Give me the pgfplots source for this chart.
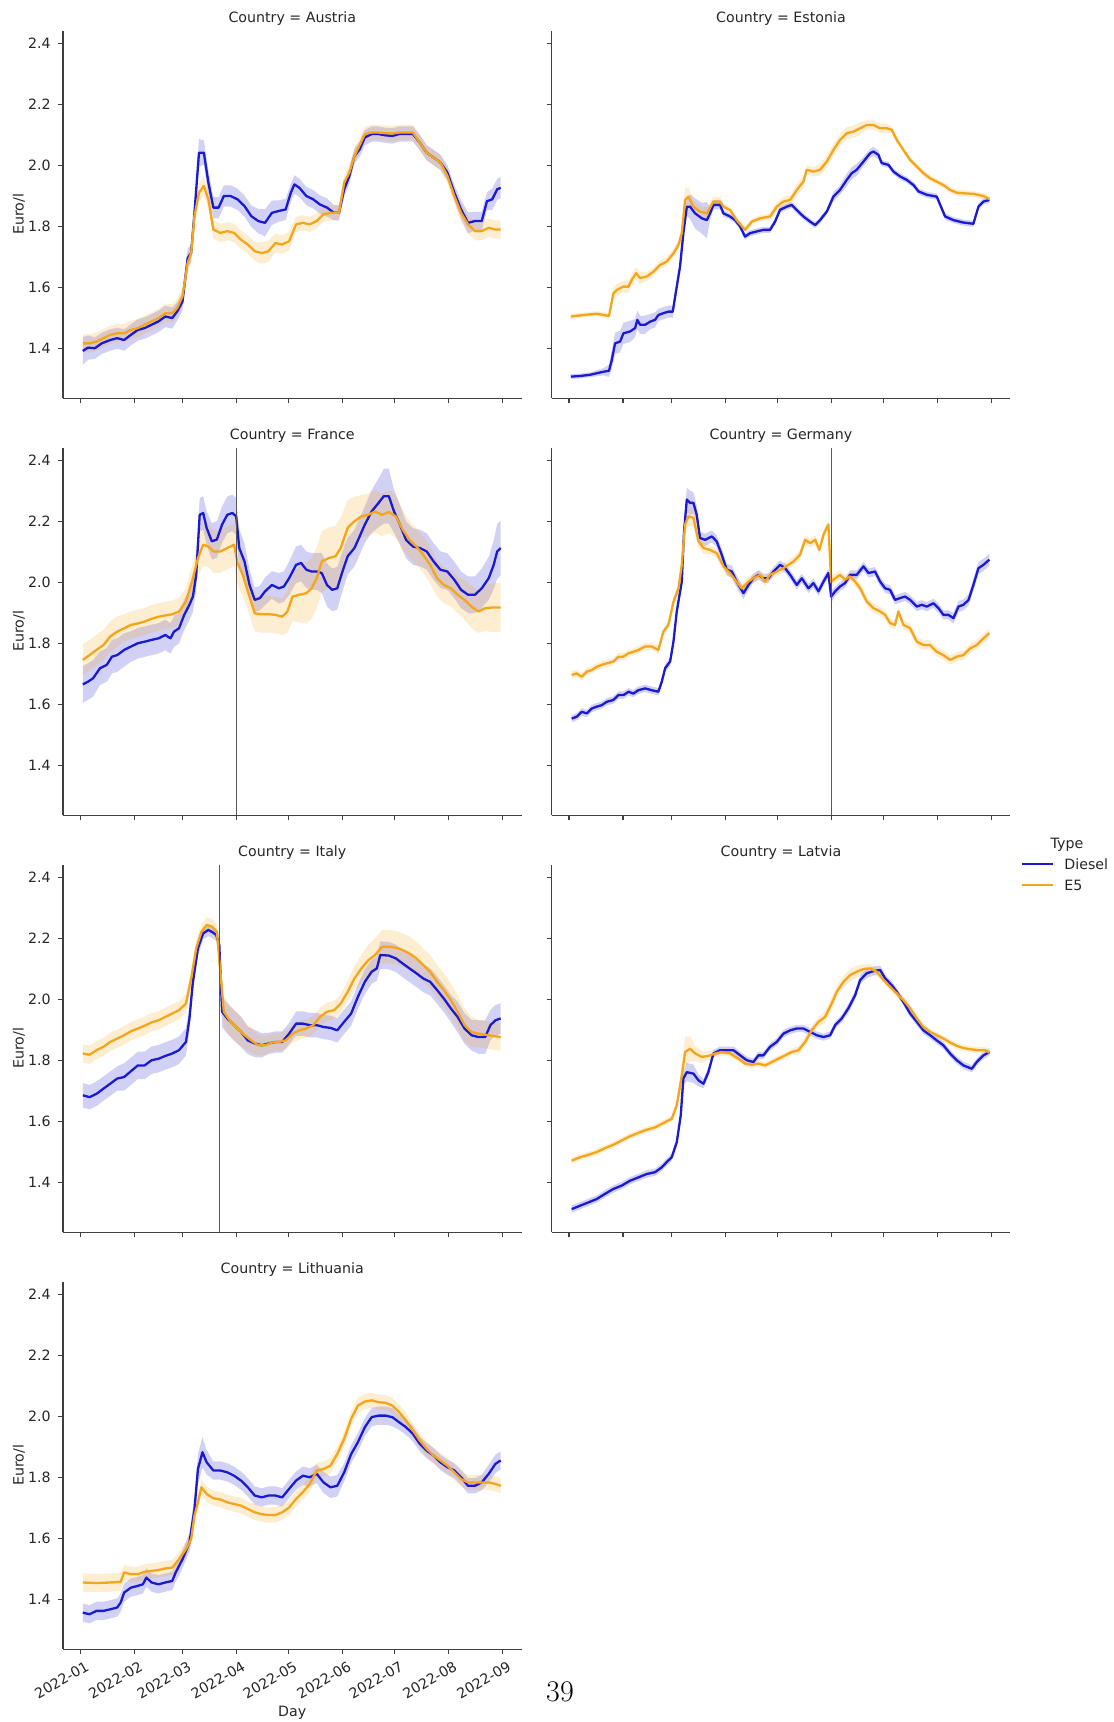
\documentclass[border=0pt]{standalone}
\usepackage{fontspec}
\newfontfamily\dv{DejaVu Sans}
\usepackage{pgfplots}
\usepackage{pgfplotstable}
\pgfplotsset{compat=1.18}
\usepgfplotslibrary{fillbetween}
\definecolor{dsl}{HTML}{1A1AD2}
\definecolor{efive}{HTML}{F5A51A}

% ---------------- data: d = day of 2022 (0 = 1 Jan), v = mean price, e = half width of band
\pgfplotstableread{
d v e
1.4 1.391 0.045
4.4 1.402 0.04
8.3 1.400 0.035
12.3 1.416 0.035
17.2 1.427 0.035
21.2 1.433 0.035
25.2 1.427 0.035
29.1 1.444 0.035
33.1 1.460 0.035
37.0 1.466 0.035
41.0 1.477 0.035
45.0 1.488 0.035
48.9 1.504 0.035
52.9 1.499 0.035
55.8 1.521 0.03
58.8 1.553 0.03
61.8 1.696 0.03
63.8 1.712 0.03
65.7 1.844 0.04
68.3 2.041 0.045
71.1 2.041 0.04
73.7 1.943 0.04
76.6 1.861 0.035
79.6 1.861 0.035
82.6 1.899 0.035
86.5 1.899 0.035
90.5 1.888 0.035
94.5 1.866 0.035
98.4 1.833 0.035
102.4 1.817 0.04
106.3 1.811 0.045
110.3 1.844 0.04
114.3 1.850 0.035
118.2 1.855 0.035
121.2 1.910 0.03
123.2 1.937 0.03
126.1 1.926 0.03
130.1 1.899 0.03
134.1 1.888 0.03
138.0 1.871 0.03
142.0 1.861 0.03
146.0 1.844 0.025
148.9 1.844 0.025
151.9 1.921 0.025
154.9 1.965 0.025
157.8 2.030 0.025
160.8 2.052 0.025
163.8 2.091 0.025
167.7 2.102 0.025
171.7 2.102 0.025
175.7 2.098 0.025
179.6 2.096 0.025
183.6 2.102 0.025
187.5 2.102 0.025
191.5 2.102 0.025
195.5 2.074 0.025
199.4 2.041 0.025
203.4 2.025 0.025
207.3 2.009 0.025
211.3 1.976 0.025
215.3 1.910 0.025
219.2 1.855 0.03
223.2 1.811 0.035
227.2 1.817 0.03
231.1 1.817 0.03
234.1 1.882 0.03
237.1 1.888 0.035
240.0 1.921 0.035
242.0 1.926 0.035
}\AtD
\pgfplotstableread{
d v e
1.4 1.416 0.03
5.3 1.416 0.03
9.3 1.422 0.03
13.3 1.433 0.03
17.2 1.444 0.03
21.2 1.449 0.03
25.2 1.449 0.03
29.1 1.460 0.03
33.1 1.466 0.03
37.0 1.477 0.03
41.0 1.488 0.03
45.0 1.499 0.03
48.9 1.515 0.03
52.9 1.515 0.03
55.8 1.532 0.03
58.8 1.570 0.03
61.8 1.680 0.03
63.8 1.712 0.03
65.7 1.833 0.03
68.3 1.910 0.03
71.1 1.932 0.03
73.7 1.888 0.03
76.6 1.789 0.03
80.6 1.778 0.03
84.6 1.784 0.03
88.5 1.778 0.03
92.5 1.756 0.03
96.4 1.740 0.03
100.4 1.718 0.03
104.4 1.712 0.035
108.3 1.718 0.035
112.3 1.745 0.03
116.2 1.740 0.03
120.2 1.751 0.03
124.2 1.806 0.025
128.1 1.811 0.025
132.1 1.806 0.025
136.1 1.817 0.025
140.0 1.839 0.025
144.0 1.844 0.025
148.9 1.844 0.025
151.9 1.943 0.025
154.9 1.976 0.025
157.8 2.030 0.025
163.8 2.102 0.025
167.7 2.107 0.025
171.7 2.107 0.025
175.7 2.105 0.025
179.6 2.104 0.025
183.6 2.107 0.025
187.5 2.107 0.025
191.5 2.107 0.025
195.5 2.074 0.025
199.4 2.041 0.025
203.4 2.025 0.025
207.3 2.009 0.025
211.3 1.965 0.025
215.3 1.899 0.025
219.2 1.844 0.03
223.2 1.806 0.03
227.2 1.784 0.03
231.1 1.784 0.03
235.1 1.795 0.03
239.0 1.789 0.03
242.0 1.789 0.03
}\AtE
\pgfplotstableread{
d v e
1.0 1.307 0.008
6.3 1.309 0.008
12.1 1.313 0.008
15.9 1.318 0.01
19.8 1.323 0.012
23.0 1.326 0.02
24.6 1.362 0.03
26.5 1.416 0.035
29.4 1.422 0.035
31.3 1.449 0.035
35.1 1.455 0.035
38.0 1.466 0.03
39.3 1.493 0.03
40.9 1.477 0.03
43.8 1.477 0.03
46.6 1.487 0.025
49.5 1.493 0.025
51.4 1.509 0.02
54.3 1.515 0.02
57.2 1.520 0.02
59.7 1.520 0.02
62.0 1.602 0.02
63.9 1.668 0.02
65.8 1.777 0.03
67.8 1.864 0.03
69.7 1.864 0.04
72.6 1.842 0.05
76.4 1.826 0.05
79.3 1.820 0.06
81.2 1.842 0.02
83.1 1.870 0.015
86.9 1.870 0.015
88.9 1.842 0.01
92.7 1.832 0.01
95.6 1.820 0.01
98.5 1.799 0.01
101.3 1.766 0.01
104.2 1.777 0.01
108.1 1.783 0.01
111.9 1.788 0.01
115.7 1.788 0.01
118.6 1.815 0.01
121.5 1.854 0.01
125.3 1.864 0.01
128.2 1.870 0.01
131.1 1.853 0.01
134.9 1.832 0.01
138.8 1.815 0.01
141.7 1.804 0.01
144.5 1.820 0.01
148.4 1.848 0.01
152.2 1.897 0.015
156.0 1.919 0.015
159.9 1.952 0.02
162.8 1.974 0.02
165.6 1.985 0.02
169.5 2.012 0.015
173.3 2.039 0.015
175.2 2.045 0.015
178.1 2.034 0.015
180.0 2.007 0.01
183.9 2.001 0.01
186.8 1.979 0.01
190.6 1.963 0.01
194.4 1.952 0.01
198.3 1.935 0.01
201.2 1.914 0.01
206.0 1.903 0.01
211.7 1.897 0.01
216.5 1.832 0.01
221.3 1.820 0.01
227.1 1.812 0.01
232.8 1.808 0.01
235.7 1.864 0.01
238.6 1.881 0.01
242.0 1.886 0.01
}\EsD
\pgfplotstableread{
d v e
1.0 1.504 0.008
8.3 1.509 0.008
15.9 1.513 0.008
23.0 1.506 0.01
25.5 1.580 0.02
27.4 1.591 0.02
31.3 1.602 0.02
34.2 1.602 0.02
36.1 1.624 0.02
38.6 1.646 0.02
40.9 1.630 0.02
44.7 1.635 0.015
48.6 1.651 0.015
52.4 1.673 0.015
56.2 1.684 0.015
60.1 1.711 0.015
63.0 1.739 0.015
64.9 1.777 0.02
66.8 1.886 0.04
68.7 1.897 0.03
71.6 1.864 0.02
75.4 1.848 0.02
79.3 1.842 0.02
83.1 1.881 0.015
86.9 1.881 0.015
88.9 1.864 0.01
92.7 1.853 0.01
96.5 1.820 0.01
101.3 1.788 0.01
105.2 1.815 0.01
110.0 1.826 0.01
115.7 1.832 0.01
119.6 1.864 0.015
123.4 1.881 0.015
127.3 1.886 0.015
131.1 1.919 0.02
134.9 1.946 0.02
136.9 1.985 0.015
140.7 1.979 0.015
144.5 1.985 0.02
148.4 2.012 0.02
152.2 2.050 0.02
156.0 2.083 0.02
159.9 2.105 0.02
163.7 2.110 0.02
167.6 2.121 0.02
171.4 2.132 0.015
175.2 2.132 0.015
179.1 2.121 0.015
182.9 2.121 0.015
185.8 2.116 0.01
188.7 2.083 0.01
192.5 2.050 0.01
196.4 2.017 0.01
200.2 1.996 0.01
204.0 1.974 0.01
207.9 1.957 0.01
211.7 1.946 0.01
215.5 1.935 0.01
219.4 1.919 0.01
223.2 1.910 0.01
227.1 1.908 0.01
232.8 1.906 0.01
238.6 1.899 0.01
242.0 1.889 0.01
}\EsE
\pgfplotstableread{
d v e
1.4 1.665 0.06
4.4 1.674 0.06
7.3 1.685 0.06
11.3 1.718 0.055
15.2 1.729 0.055
18.2 1.756 0.055
21.2 1.761 0.055
25.2 1.778 0.055
29.1 1.789 0.05
33.1 1.800 0.05
37.0 1.805 0.05
41.0 1.811 0.05
45.0 1.816 0.05
48.9 1.827 0.05
51.9 1.816 0.05
53.9 1.838 0.05
56.8 1.849 0.05
59.8 1.893 0.05
62.8 1.926 0.05
64.8 1.953 0.05
66.7 2.024 0.05
68.7 2.221 0.055
70.7 2.227 0.055
72.7 2.178 0.055
75.7 2.134 0.06
78.6 2.140 0.06
81.6 2.189 0.06
84.6 2.221 0.06
87.5 2.227 0.06
89.7 2.216 0.06
91.5 2.112 0.06
94.5 2.068 0.06
97.4 1.991 0.05
100.4 1.942 0.04
103.4 1.948 0.04
106.3 1.970 0.045
110.3 1.991 0.045
114.3 1.980 0.05
117.2 1.986 0.05
120.2 2.013 0.055
124.2 2.057 0.06
127.1 2.063 0.06
130.1 2.041 0.06
133.1 2.035 0.06
136.1 2.035 0.06
139.0 2.030 0.065
142.0 1.991 0.07
145.0 1.975 0.07
147.9 1.980 0.07
150.9 2.035 0.065
153.9 2.085 0.06
157.8 2.112 0.06
160.8 2.150 0.06
163.8 2.189 0.06
167.7 2.232 0.07
171.7 2.260 0.08
174.7 2.282 0.09
177.6 2.282 0.09
180.6 2.232 0.07
183.6 2.194 0.065
187.5 2.139 0.06
191.5 2.117 0.06
195.5 2.112 0.06
199.4 2.101 0.06
203.4 2.068 0.06
207.3 2.041 0.06
211.3 2.035 0.06
215.3 2.008 0.06
219.2 1.975 0.06
223.2 1.959 0.06
227.2 1.959 0.06
231.1 1.980 0.065
235.1 2.013 0.07
238.0 2.057 0.08
240.0 2.101 0.09
242.0 2.112 0.09
}\FrD
\pgfplotstableread{
d v e
1.4 1.745 0.05
5.3 1.761 0.05
9.3 1.778 0.05
13.3 1.794 0.05
17.2 1.822 0.05
21.2 1.838 0.05
25.2 1.849 0.045
29.1 1.860 0.045
33.1 1.865 0.045
37.0 1.871 0.045
41.0 1.880 0.045
45.0 1.887 0.045
48.9 1.891 0.045
52.9 1.895 0.045
56.8 1.904 0.045
60.8 1.937 0.045
64.8 2.013 0.05
67.7 2.079 0.06
70.7 2.123 0.07
73.7 2.117 0.07
76.7 2.101 0.07
80.6 2.101 0.07
84.6 2.112 0.07
88.5 2.123 0.07
90.5 2.063 0.07
93.5 2.024 0.07
96.4 1.970 0.06
100.4 1.898 0.06
104.4 1.895 0.06
108.3 1.895 0.06
112.3 1.893 0.06
116.2 1.887 0.06
119.2 1.904 0.07
122.2 1.953 0.08
126.1 1.959 0.09
130.1 1.964 0.1
133.1 1.980 0.1
136.1 2.013 0.1
139.0 2.068 0.1
143.0 2.079 0.1
146.9 2.085 0.1
149.9 2.112 0.1
153.9 2.178 0.09
157.8 2.200 0.08
161.8 2.216 0.07
165.8 2.221 0.07
169.7 2.232 0.07
173.7 2.221 0.07
177.6 2.230 0.07
181.6 2.216 0.07
185.6 2.172 0.065
189.5 2.139 0.06
193.5 2.117 0.06
197.4 2.090 0.06
201.4 2.057 0.06
205.4 2.013 0.06
209.3 1.991 0.06
213.3 1.980 0.06
217.2 1.959 0.06
221.2 1.942 0.065
225.2 1.920 0.07
229.1 1.904 0.07
233.1 1.915 0.075
237.1 1.917 0.08
242.0 1.917 0.08
}\FrE
\pgfplotstableread{
d v e
1.5 1.553 0.012
4.4 1.559 0.012
7.3 1.575 0.012
10.2 1.570 0.012
13.1 1.586 0.012
15.9 1.592 0.012
18.8 1.597 0.012
21.7 1.608 0.012
25.5 1.614 0.012
28.4 1.630 0.012
31.3 1.630 0.012
34.2 1.641 0.012
37.0 1.635 0.012
39.9 1.646 0.012
43.8 1.652 0.012
47.6 1.646 0.012
51.4 1.641 0.012
53.4 1.674 0.012
55.3 1.718 0.012
58.2 1.740 0.015
60.1 1.805 0.015
62.0 1.904 0.015
64.9 2.002 0.02
66.2 2.167 0.03
67.8 2.271 0.04
69.7 2.260 0.04
71.6 2.260 0.035
73.5 2.221 0.03
75.4 2.145 0.02
78.3 2.139 0.02
82.2 2.150 0.02
85.0 2.134 0.02
87.9 2.090 0.02
90.8 2.041 0.02
93.7 2.035 0.02
96.5 2.002 0.02
100.4 1.964 0.02
103.3 1.991 0.015
106.1 2.013 0.015
109.0 2.024 0.015
111.9 2.013 0.015
114.8 2.013 0.015
117.7 2.035 0.015
121.5 2.057 0.015
124.4 2.046 0.015
127.3 2.024 0.015
131.1 1.991 0.015
134.0 2.013 0.015
137.8 1.980 0.015
140.7 1.997 0.015
143.6 1.970 0.015
146.5 2.002 0.015
149.3 2.030 0.015
150.9 1.953 0.02
153.2 1.970 0.015
156.0 1.986 0.015
158.9 1.997 0.015
161.8 2.024 0.015
165.6 2.024 0.015
169.5 2.052 0.015
172.4 2.030 0.015
176.2 2.035 0.015
179.1 2.002 0.015
182.0 1.980 0.015
184.8 1.975 0.015
187.7 1.942 0.015
190.6 1.948 0.015
193.5 1.953 0.015
196.4 1.942 0.015
200.2 1.920 0.015
203.1 1.926 0.015
206.0 1.920 0.015
209.8 1.931 0.015
212.7 1.915 0.015
215.5 1.893 0.015
218.4 1.893 0.015
221.3 1.882 0.018
224.2 1.920 0.018
227.1 1.926 0.018
230.0 1.942 0.018
232.8 1.991 0.02
235.7 2.046 0.02
238.6 2.057 0.02
242.0 2.074 0.02
}\GeD
\pgfplotstableread{
d v e
1.5 1.696 0.012
4.4 1.701 0.012
7.3 1.690 0.012
10.2 1.707 0.012
13.1 1.712 0.012
15.9 1.723 0.012
18.8 1.729 0.012
21.7 1.734 0.012
25.5 1.740 0.012
28.4 1.756 0.012
31.3 1.756 0.012
34.2 1.767 0.012
37.0 1.772 0.012
39.9 1.778 0.012
43.8 1.789 0.012
47.6 1.789 0.012
51.4 1.778 0.012
54.3 1.838 0.012
57.2 1.860 0.012
60.1 1.936 0.015
63.0 1.980 0.015
64.9 2.057 0.02
66.8 2.189 0.03
68.7 2.216 0.03
71.6 2.211 0.03
74.5 2.134 0.02
77.4 2.112 0.02
81.2 2.106 0.015
85.0 2.095 0.015
88.9 2.052 0.015
92.7 2.030 0.015
95.6 2.008 0.015
99.4 1.980 0.015
103.3 2.002 0.015
106.1 2.013 0.015
110.0 2.024 0.015
112.9 2.002 0.015
115.7 2.024 0.015
119.6 2.035 0.015
123.4 2.046 0.015
126.3 2.057 0.015
129.2 2.068 0.015
133.0 2.090 0.015
135.9 2.139 0.015
138.8 2.128 0.015
141.7 2.139 0.015
144.1 2.106 0.015
146.5 2.156 0.015
149.3 2.189 0.015
150.9 2.002 0.02
153.2 2.013 0.015
156.0 2.024 0.015
158.9 2.008 0.015
161.8 2.019 0.015
164.7 2.002 0.015
167.6 1.980 0.015
171.4 1.937 0.015
175.2 1.915 0.015
179.1 1.904 0.015
182.0 1.893 0.015
184.8 1.866 0.015
187.7 1.860 0.015
189.6 1.904 0.015
192.5 1.860 0.015
196.4 1.849 0.015
200.2 1.805 0.015
204.0 1.794 0.015
207.9 1.794 0.015
211.7 1.772 0.015
215.5 1.761 0.015
219.4 1.745 0.015
223.2 1.756 0.015
227.1 1.761 0.015
230.9 1.783 0.015
234.7 1.794 0.015
238.6 1.816 0.015
242.0 1.833 0.015
}\GeE
\pgfplotstableread{
d v e
1.4 1.685 0.04
5.3 1.679 0.04
9.3 1.690 0.04
13.3 1.707 0.04
17.2 1.723 0.04
21.2 1.740 0.04
25.2 1.745 0.045
29.1 1.764 0.045
33.1 1.783 0.045
37.0 1.783 0.045
41.0 1.800 0.045
45.0 1.805 0.045
48.9 1.814 0.045
52.9 1.822 0.045
56.8 1.833 0.045
60.8 1.860 0.045
62.8 1.937 0.04
64.8 2.057 0.03
67.7 2.167 0.025
70.7 2.216 0.02
73.7 2.227 0.02
75.7 2.221 0.02
78.2 2.211 0.02
80.0 2.178 0.03
81.6 1.959 0.05
84.6 1.937 0.05
88.5 1.915 0.05
92.5 1.893 0.05
96.4 1.865 0.045
100.4 1.855 0.045
104.4 1.849 0.04
108.3 1.855 0.035
112.3 1.860 0.035
116.2 1.860 0.035
120.2 1.887 0.035
124.2 1.920 0.04
128.1 1.920 0.04
132.1 1.915 0.04
136.1 1.915 0.04
140.0 1.909 0.04
144.0 1.906 0.04
147.9 1.898 0.04
151.9 1.926 0.04
155.9 1.953 0.04
159.8 2.008 0.04
163.8 2.057 0.04
167.7 2.090 0.04
170.7 2.101 0.04
172.7 2.145 0.045
177.6 2.143 0.045
181.6 2.134 0.045
185.6 2.117 0.045
189.5 2.101 0.045
193.5 2.085 0.045
197.4 2.068 0.045
201.4 2.057 0.045
205.4 2.030 0.045
209.3 2.002 0.045
213.3 1.970 0.045
217.2 1.942 0.05
221.2 1.904 0.05
225.2 1.882 0.05
229.1 1.876 0.055
233.1 1.876 0.055
236.1 1.915 0.05
239.0 1.931 0.05
242.0 1.937 0.05
}\ItD
\pgfplotstableread{
d v e
1.4 1.822 0.03
5.3 1.818 0.03
9.3 1.833 0.03
13.3 1.844 0.03
17.2 1.860 0.03
21.2 1.871 0.03
25.2 1.882 0.03
29.1 1.895 0.03
33.1 1.904 0.03
37.0 1.913 0.03
41.0 1.924 0.03
45.0 1.931 0.03
48.9 1.942 0.03
52.9 1.953 0.03
56.8 1.964 0.03
60.8 1.986 0.03
63.8 2.068 0.025
66.7 2.167 0.025
69.7 2.221 0.025
72.7 2.243 0.025
75.7 2.238 0.025
78.6 2.221 0.025
80.6 2.090 0.04
82.6 1.959 0.05
86.5 1.926 0.05
90.5 1.904 0.05
94.5 1.882 0.045
98.4 1.865 0.04
102.4 1.849 0.035
106.3 1.849 0.03
110.3 1.858 0.03
114.3 1.860 0.03
118.2 1.865 0.03
122.2 1.887 0.03
126.1 1.898 0.03
130.1 1.904 0.03
134.1 1.915 0.03
138.0 1.942 0.03
142.0 1.959 0.03
146.0 1.964 0.03
149.9 1.986 0.03
153.9 2.024 0.035
157.8 2.068 0.04
161.8 2.101 0.045
165.8 2.128 0.05
169.7 2.145 0.055
173.7 2.172 0.055
177.6 2.172 0.055
181.6 2.169 0.055
185.6 2.161 0.055
189.5 2.150 0.055
193.5 2.134 0.055
197.4 2.112 0.055
201.4 2.090 0.055
205.4 2.057 0.055
209.3 2.030 0.055
213.3 1.997 0.055
217.2 1.959 0.055
221.2 1.915 0.055
225.2 1.893 0.05
229.1 1.887 0.045
233.1 1.884 0.045
237.1 1.880 0.045
242.0 1.876 0.045
}\ItE
\pgfplotstableread{
d v e
1.5 1.312 0.012
6.3 1.323 0.012
11.1 1.334 0.012
15.9 1.345 0.012
20.7 1.362 0.012
25.5 1.378 0.012
30.3 1.389 0.012
35.1 1.405 0.012
39.9 1.416 0.012
44.7 1.427 0.012
49.5 1.433 0.012
53.4 1.449 0.012
56.2 1.466 0.012
59.1 1.482 0.012
62.0 1.531 0.015
64.3 1.619 0.015
65.8 1.740 0.02
67.8 1.761 0.03
71.6 1.756 0.03
74.5 1.734 0.02
77.4 1.723 0.015
80.2 1.761 0.015
83.1 1.822 0.012
86.9 1.833 0.012
90.8 1.833 0.012
94.6 1.833 0.012
98.5 1.816 0.012
102.3 1.800 0.012
106.1 1.794 0.012
109.0 1.816 0.012
111.9 1.816 0.012
115.7 1.844 0.012
119.6 1.860 0.012
123.4 1.887 0.012
127.3 1.898 0.012
131.1 1.904 0.012
134.9 1.904 0.012
138.8 1.893 0.012
142.6 1.882 0.012
146.5 1.876 0.012
150.3 1.882 0.012
153.2 1.915 0.012
157.0 1.937 0.012
160.8 1.970 0.015
164.7 2.013 0.015
167.6 2.063 0.015
171.4 2.085 0.015
175.2 2.092 0.015
179.1 2.096 0.015
182.0 2.068 0.012
185.8 2.046 0.012
188.7 2.024 0.012
192.5 1.991 0.012
196.4 1.953 0.012
200.2 1.926 0.012
204.0 1.898 0.012
207.9 1.882 0.012
211.7 1.865 0.012
215.5 1.849 0.012
219.4 1.822 0.012
223.2 1.800 0.012
227.1 1.783 0.012
231.9 1.772 0.012
234.7 1.794 0.012
238.6 1.816 0.012
242.0 1.827 0.012
}\LvD
\pgfplotstableread{
d v e
1.5 1.471 0.01
6.3 1.482 0.01
11.1 1.490 0.01
15.9 1.499 0.01
20.7 1.512 0.01
25.5 1.523 0.01
30.3 1.537 0.01
35.1 1.551 0.01
39.9 1.562 0.01
44.7 1.572 0.01
49.5 1.580 0.01
54.3 1.594 0.01
59.1 1.608 0.01
62.0 1.652 0.015
64.9 1.750 0.03
66.8 1.827 0.05
69.7 1.838 0.04
72.6 1.822 0.025
76.4 1.811 0.02
80.2 1.814 0.015
84.1 1.822 0.012
87.9 1.827 0.012
92.7 1.822 0.01
97.5 1.805 0.01
101.3 1.789 0.01
105.2 1.785 0.01
109.0 1.789 0.01
112.9 1.783 0.01
116.7 1.794 0.01
120.5 1.805 0.01
124.4 1.816 0.01
128.2 1.827 0.01
132.1 1.833 0.015
135.9 1.860 0.015
139.7 1.898 0.015
143.6 1.926 0.015
147.4 1.942 0.02
151.2 1.986 0.02
154.1 2.024 0.02
158.0 2.057 0.02
161.8 2.079 0.02
165.6 2.090 0.02
169.5 2.099 0.015
173.3 2.101 0.015
177.2 2.090 0.012
181.0 2.063 0.012
184.8 2.041 0.012
188.7 2.019 0.012
192.5 1.997 0.012
196.4 1.970 0.012
200.2 1.937 0.01
204.0 1.909 0.01
207.9 1.893 0.01
211.7 1.882 0.01
215.5 1.871 0.01
219.4 1.858 0.01
223.2 1.847 0.01
227.1 1.840 0.01
230.9 1.836 0.01
235.7 1.833 0.01
239.5 1.833 0.01
242.0 1.825 0.01
}\LvE
\pgfplotstableread{
d v e
1.4 1.356 0.03
5.3 1.351 0.03
9.3 1.362 0.03
13.3 1.362 0.03
17.2 1.367 0.03
21.2 1.373 0.03
23.2 1.389 0.03
25.2 1.422 0.03
29.1 1.438 0.03
33.1 1.444 0.03
36.0 1.449 0.03
38.0 1.471 0.03
41.0 1.455 0.03
45.0 1.449 0.03
48.9 1.455 0.03
52.9 1.460 0.03
54.9 1.488 0.03
58.8 1.531 0.03
62.8 1.586 0.03
65.7 1.696 0.04
67.7 1.827 0.05
70.3 1.882 0.05
72.7 1.849 0.04
76.6 1.822 0.03
80.6 1.822 0.03
84.6 1.816 0.03
88.5 1.805 0.03
92.5 1.789 0.03
96.4 1.767 0.03
100.4 1.740 0.03
104.4 1.734 0.03
108.3 1.740 0.03
112.3 1.740 0.03
116.2 1.734 0.03
120.2 1.762 0.03
124.2 1.789 0.03
128.1 1.805 0.03
132.1 1.800 0.03
136.1 1.811 0.03
140.0 1.783 0.035
144.0 1.767 0.035
147.9 1.772 0.035
151.9 1.816 0.03
155.9 1.876 0.03
159.8 1.915 0.03
163.8 1.964 0.03
167.7 1.997 0.03
171.7 2.002 0.03
175.7 2.002 0.03
179.6 1.997 0.03
183.6 1.980 0.025
187.5 1.964 0.025
191.5 1.942 0.025
195.5 1.909 0.025
199.4 1.887 0.025
203.4 1.871 0.025
207.3 1.849 0.025
211.3 1.833 0.025
215.3 1.822 0.025
219.2 1.800 0.025
223.2 1.772 0.025
227.2 1.772 0.025
231.1 1.783 0.025
235.1 1.811 0.03
239.0 1.844 0.03
242.0 1.855 0.03
}\LtD
\pgfplotstableread{
d v e
1.4 1.455 0.03
9.3 1.453 0.03
17.2 1.455 0.03
23.2 1.457 0.03
25.2 1.488 0.025
29.1 1.482 0.025
33.1 1.482 0.025
37.0 1.490 0.025
41.0 1.493 0.025
45.0 1.496 0.025
48.9 1.501 0.025
52.9 1.504 0.025
56.8 1.531 0.025
60.8 1.564 0.025
63.8 1.597 0.025
65.7 1.674 0.025
67.7 1.718 0.025
69.7 1.767 0.025
72.7 1.745 0.025
76.6 1.731 0.025
80.6 1.727 0.025
84.6 1.718 0.025
88.5 1.712 0.025
92.5 1.707 0.025
96.4 1.696 0.025
100.4 1.685 0.025
104.4 1.679 0.025
108.3 1.676 0.025
112.3 1.676 0.025
116.2 1.685 0.025
120.2 1.701 0.025
124.2 1.729 0.025
128.1 1.751 0.025
132.1 1.778 0.025
136.1 1.822 0.025
140.0 1.827 0.025
144.0 1.838 0.025
147.9 1.876 0.025
151.9 1.926 0.025
155.9 1.991 0.025
159.8 2.035 0.025
163.8 2.048 0.025
167.7 2.052 0.025
171.7 2.046 0.025
175.7 2.044 0.025
179.6 2.035 0.025
183.6 2.013 0.025
187.5 1.986 0.025
191.5 1.953 0.025
195.5 1.920 0.025
199.4 1.893 0.025
203.4 1.871 0.025
207.3 1.855 0.025
211.3 1.838 0.025
215.3 1.816 0.025
219.2 1.794 0.025
223.2 1.783 0.025
227.2 1.783 0.025
231.1 1.783 0.025
235.1 1.783 0.025
239.0 1.778 0.025
242.0 1.772 0.025
}\LtE

\newcommand{\series}[3]{%
  \addplot[draw=none, name path=#3up, forget plot] table[x=d, y expr=\thisrow{v}+\thisrow{e}] {#1};
  \addplot[draw=none, name path=#3lo, forget plot] table[x=d, y expr=\thisrow{v}-\thisrow{e}] {#1};
  \addplot[fill=#2, fill opacity=0.2, draw=none, forget plot] fill between[of=#3up and #3lo];
  \addplot[#2, line width=1.15pt, line join=round, forget plot] table[x=d, y=v] {#1};
}

\newcommand{\tf}{\dv\fontsize{7.1}{8.5}\selectfont}

\pgfplotsset{
  facet/.style={
    scale only axis, width=229.25pt, height=183.8pt,
    xmin=-10, xmax=254, ymin=1.236, ymax=2.441,
    axis x line*=bottom, axis y line*=left,
    axis line style={-, draw=black!75, line width=0.6pt},
    tick pos=left, tick align=outside, major tick length=2.6pt,
    every tick/.style={draw=black!75, line width=0.6pt},
    xtick={0,31,59,90,120,151,181,212,243},
    ytick={1.4,1.6,1.8,2.0,2.2,2.4},
    xticklabels={}, yticklabels={},
    tick label style={font=\tf, text=black!85},
    /pgf/number format/assume math mode=true,
    every axis title/.style={font=\tf, text=black!85, at={(axis description cs:0.5,1)}, anchor=base, inner sep=0pt, yshift=4pt},
    clip=false,
  },
  lefty/.style={
    yticklabels={1.4,1.6,1.8,2.0,2.2,2.4},
    ylabel={Euro/l},
    every axis y label/.style={at={(axis description cs:-0.096,0.5)}, rotate=90, anchor=center, font=\tf, text=black!85},
  },
}

\begin{document}
\begin{tikzpicture}

% Row 1
\begin{axis}[facet, lefty, at={(31.5pt,661.85pt)}, anchor=south west, title={Country = Austria}]
\series{\AtD}{dsl}{a}
\series{\AtE}{efive}{b}
\end{axis}
\begin{axis}[facet, at={(275.85pt,661.85pt)}, anchor=south west, title={Country = Estonia}]
\series{\EsD}{dsl}{a}
\series{\EsE}{efive}{b}
\end{axis}

% Row 2
\begin{axis}[facet, lefty, at={(31.5pt,453.35pt)}, anchor=south west, title={Country = France}]
\series{\FrD}{dsl}{a}
\series{\FrE}{efive}{b}
\addplot[black!65, line width=0.7pt, forget plot] coordinates {(90,1.236) (90,2.441)};
\end{axis}
\begin{axis}[facet, at={(275.85pt,453.35pt)}, anchor=south west, title={Country = Germany}]
\series{\GeD}{dsl}{a}
\series{\GeE}{efive}{b}
\addplot[black!65, line width=0.7pt, forget plot] coordinates {(151,1.236) (151,2.441)};
\end{axis}

% Row 3
\begin{axis}[facet, lefty, at={(31.5pt,244.85pt)}, anchor=south west, title={Country = Italy}]
\series{\ItD}{dsl}{a}
\series{\ItE}{efive}{b}
\addplot[black!65, line width=0.7pt, forget plot] coordinates {(80,1.236) (80,2.441)};
\end{axis}
\begin{axis}[facet, at={(275.85pt,244.85pt)}, anchor=south west, title={Country = Latvia}]
\series{\LvD}{dsl}{a}
\series{\LvE}{efive}{b}
\end{axis}

% Row 4
\begin{axis}[facet, lefty, at={(31.5pt,36.35pt)}, anchor=south west, title={Country = Lithuania},
  xticklabels={2022-01,2022-02,2022-03,2022-04,2022-05,2022-06,2022-07,2022-08,2022-09},
  xticklabel style={rotate=30, anchor=north east, inner sep=0pt, yshift=-3.5pt, xshift=0.5pt},
  xlabel={Day},
  every axis x label/.style={at={(axis description cs:0.5,-0.172)}, anchor=center, inner sep=0pt, font=\tf, text=black!85}]
\series{\LtD}{dsl}{a}
\series{\LtE}{efive}{b}
\end{axis}

% legend
\node[font=\tf, text=black!85] at (533.5pt,438.5pt) {Type};
\draw[dsl, line width=1.15pt] (510.85pt,428.85pt) -- (526.35pt,428.85pt);
\node[font=\tf, text=black!85, anchor=west, inner sep=0pt] at (532pt,428.85pt) {Diesel};
\draw[efive, line width=1.15pt] (510.85pt,418.35pt) -- (526.35pt,418.35pt);
\node[font=\tf, text=black!85, anchor=west, inner sep=0pt] at (532pt,418.35pt) {E5};

% page number
\node[font=\fontsize{15}{18}\selectfont] at (280pt,15pt) {39};

% page frame: the picture is exactly the page
\pgfresetboundingbox
\path[use as bounding box] (0pt,0pt) rectangle (556.5pt,861pt);
\end{tikzpicture}
\end{document}
